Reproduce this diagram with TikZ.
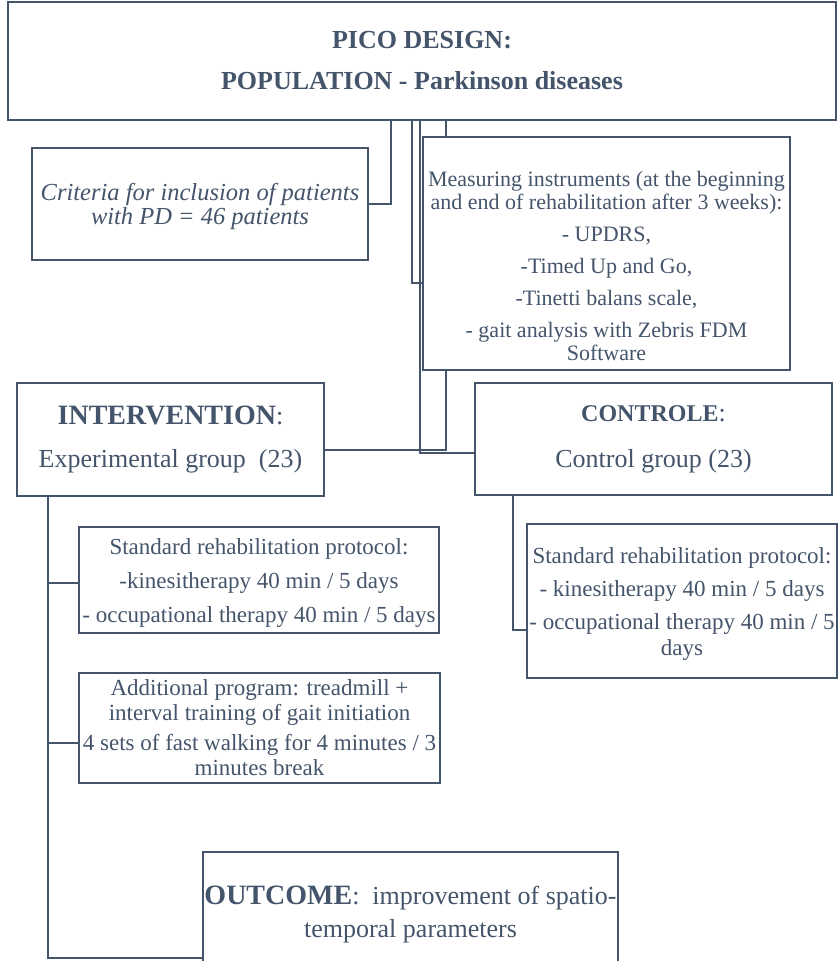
\documentclass[tikz,border=0pt]{standalone}
\usepackage{fontspec}
\setmainfont{Liberation Serif}
\definecolor{slate}{RGB}{68,84,106}

\begin{document}
\begin{tikzpicture}[
        x=1pt, y=-1pt,
        every node/.style={
            font=\fontsize{22}{23}\selectfont,
            text=slate,
            align=center
        },
        box/.style={draw=slate, line width=1.6pt, inner sep=0pt},
        link/.style={draw=slate, line width=1.4pt}
    ]
        \useasboundingbox (0,0) rectangle (838,961);

        % POPULATION
        \node[box, minimum width=828pt, minimum height=118pt,
            font=\bfseries\fontsize{26}{41}\selectfont] (pop) at (422,61)
            {PICO DESIGN:\\POPULATION - Parkinson diseases};

        \node[box, minimum width=336pt, minimum height=112pt,
            font=\itshape\fontsize{24.5}{24}\selectfont] (crit) at (200,204)
            {\rule{0pt}{23pt}Criteria for inclusion of patients\\with PD = 46 patients};

        \node[box, minimum width=367pt, minimum height=233pt] (meas) at (606.5,253.5)
            {\rule{0pt}{40pt}Measuring instruments (at the beginning\\and end of rehabilitation after 3 weeks):\\[9pt]
             - UPDRS,\\[9pt] -Timed Up and Go,\\[9pt] -Tinetti balans scale,\\[9pt]
             - gait analysis with Zebris FDM\\Software};

        % GROUPS
        \node[box, minimum width=307pt, minimum height=113pt,
            font=\fontsize{26}{43}\selectfont] (interv) at (170.5,439.5)
            {{\fontsize{28}{43}\selectfont\bfseries INTERVENTION}:\\Experimental group~~(23)};

        \node[box, minimum width=357pt, minimum height=112pt,
            font=\fontsize{26}{46}\selectfont] (ctrl) at (653.5,439)
            {{\fontsize{24}{46}\selectfont\bfseries CONTROLE}:\\Control group (23)};

        % PROGRAMS
        \node[box, minimum width=360pt, minimum height=106pt,
            font=\fontsize{23}{34}\selectfont] (stdL) at (259,580)
            {\rule{0pt}{21pt}Standard rehabilitation protocol:\\-kinesitherapy 40 min / 5 days\\- occupational therapy 40 min / 5 days};

        \node[box, minimum width=361pt, minimum height=110pt,
            font=\fontsize{23}{25}\selectfont] (addL) at (259.5,728)
            {Additional program: treadmill +\\interval training of gait initiation\\[5pt]
             4 sets of fast walking for 4 minutes / 3\\minutes break};

        \node[box, minimum width=310pt, minimum height=154pt,
            font=\fontsize{23}{26}\selectfont] (stdR) at (682,601)
            {\rule{0pt}{22pt}Standard rehabilitation protocol:\\[7pt] - kinesitherapy 40 min / 5 days\\[7pt]
             - occupational therapy 40 min / 5\\days};

        % OUTCOME
        \node[box, minimum width=415pt, minimum height=116pt,
            font=\fontsize{26}{33}\selectfont] (outc) at (410.5,910)
            {\rule{0pt}{28pt}{\fontsize{28}{33}\selectfont\bfseries OUTCOME}:~~improvement of spatio-\\temporal parameters};

        % connectors
        \coordinate (c1) at (391,0);
        \coordinate (c2) at (412,0);
        \coordinate (c3) at (420,0);
        \coordinate (c4) at (446,0);
        \coordinate (c5) at (48,0);
        \coordinate (c6) at (513,0);
        \coordinate (b1) at ([yshift=-3pt]stdL.west);
        \coordinate (b2) at ([yshift=-15pt]addL.west);

        \draw[link] (pop.south -| c1) |- (crit.east);
        \draw[link] (pop.south -| c2) |- ([yshift=-29.5pt]meas.west);
        \draw[link] (pop.south -| c3) |- ([yshift=-14pt]ctrl.west);
        \draw[link] (pop.south -| c4) -- (meas.north -| c4);
        \draw[link] (meas.south -| c4) |- ([yshift=-10.5pt]interv.east);

        \draw[link] (interv.south -| c5) |- ([yshift=-48pt]outc.west);
        \draw[link] (b1 -| c5) -- (b1);
        \draw[link] (b2 -| c5) -- (b2);
        \draw[link] (ctrl.south -| c6) |- ([yshift=-29pt]stdR.west);
    \end{tikzpicture}
\end{document}
